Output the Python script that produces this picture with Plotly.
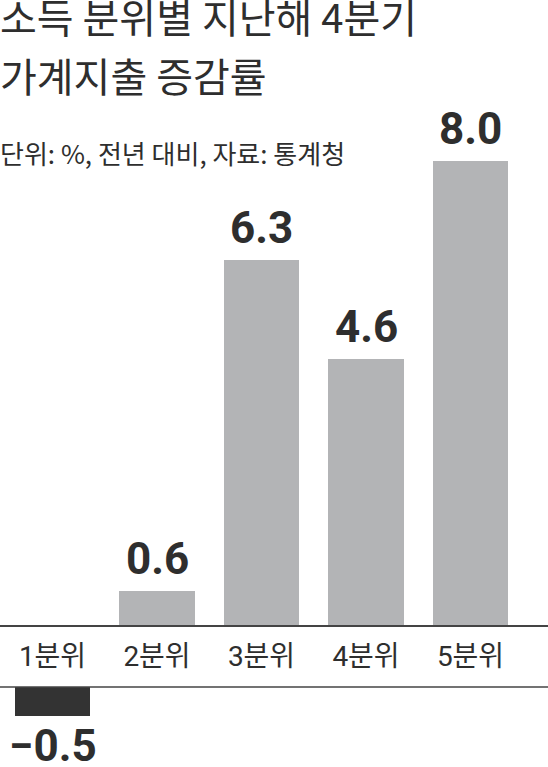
import plotly.graph_objects as go

categories = ["1분위", "2분위", "3분위", "4분위", "5분위"]
values = [-0.5, 0.6, 6.3, 4.6, 8.0]
value_labels = ["−0.5", "0.6", "6.3", "4.6", "8.0"]
title_lines = ["소득 분위별 지난해 4분기", "가계지출 증감률"]
subtitle = "단위: %, 전년 대비, 자료: 통계청"

W, H = 548, 767
PX_PER_UNIT = 58.1
ZERO_TOP = 626      # pixel row of zero line for positive bars
ZERO_NEG = 687      # pixel row of zero line for negative bars
CAT_SPACING = 104.5
FIRST_CENTER = 52.5

KR = "Noto Sans CJK KR"
NUM = "Roboto, Noto Sans CJK KR"
TXT = "#2e2e2e"

pos_cats = [c for c, v in zip(categories, values) if v >= 0]
pos_vals = [v for v in values if v >= 0]
neg_cats = [c for c, v in zip(categories, values) if v < 0]
neg_vals = [v for v in values if v < 0]

fig = go.Figure()
fig.add_trace(go.Bar(x=pos_cats, y=pos_vals, marker=dict(color="#b3b4b6", line=dict(width=0)),
                     width=0.722, yaxis="y", hoverinfo="skip"))
fig.add_trace(go.Bar(x=neg_cats, y=neg_vals, marker=dict(color="#333333", line=dict(width=0)),
                     width=0.722, yaxis="y2", hoverinfo="skip"))

x0 = -FIRST_CENTER / CAT_SPACING
x1 = x0 + W / CAT_SPACING

annotations = []
for c, v, lab in zip(categories, values, value_labels):
    if v >= 0:
        annotations.append(dict(x=c, y=v, xref="x", yref="y", text=lab, showarrow=False,
                                yanchor="bottom", yshift=4,
                                font=dict(family=NUM, size=44, color=TXT, weight="bold")))
    else:
        annotations.append(dict(x=c, y=v, xref="x", yref="y2", text=lab, showarrow=False,
                                yanchor="top", yshift=-2,
                                font=dict(family=NUM, size=44, color=TXT, weight="bold")))

annotations.append(dict(x=0, y=1 - 16 / H, xref="paper", yref="paper", xanchor="left", yanchor="middle",
                        text=title_lines[0], showarrow=False, xshift=-2,
                        font=dict(family=KR, size=40, color=TXT)))
annotations.append(dict(x=0, y=1 - 75 / H, xref="paper", yref="paper", xanchor="left", yanchor="middle",
                        text=title_lines[1], showarrow=False, xshift=-2,
                        font=dict(family=KR, size=40, color=TXT)))
annotations.append(dict(x=0, y=1 - 152 / H, xref="paper", yref="paper", xanchor="left", yanchor="middle",
                        text=subtitle, showarrow=False, xshift=-2,
                        font=dict(family=KR, size=26, color=TXT)))

fig.update_layout(
    width=W, height=H,
    margin=dict(l=0, r=0, t=0, b=0),
    paper_bgcolor="white", plot_bgcolor="white",
    showlegend=False, bargap=0,
    xaxis=dict(type="category", categoryorder="array", categoryarray=categories,
               range=[x0, x1], anchor="free", position=(H - ZERO_TOP) / H,
               showline=True, linecolor="#444444", linewidth=1.5, ticks="", showgrid=False,
               zeroline=False, ticklabelstandoff=6,
               tickfont=dict(family="Roboto, Noto Sans CJK KR", size=28, color=TXT)),
    yaxis=dict(range=[-(H - ZERO_TOP) / PX_PER_UNIT, ZERO_TOP / PX_PER_UNIT], visible=False,
               showgrid=False, zeroline=False),
    yaxis2=dict(range=[-(H - ZERO_NEG) / PX_PER_UNIT, ZERO_NEG / PX_PER_UNIT], overlaying="y",
                visible=False, showgrid=False, zeroline=False),
    shapes=[dict(type="line", xref="paper", yref="y2", x0=0, x1=1, y0=0, y1=0,
                 line=dict(color="#444444", width=1.5))],
    annotations=annotations,
)

fig.write_html("out.html", config={"displayModeBar": False},
               post_script="document.body.style.margin='0';document.body.style.overflow='hidden';")
